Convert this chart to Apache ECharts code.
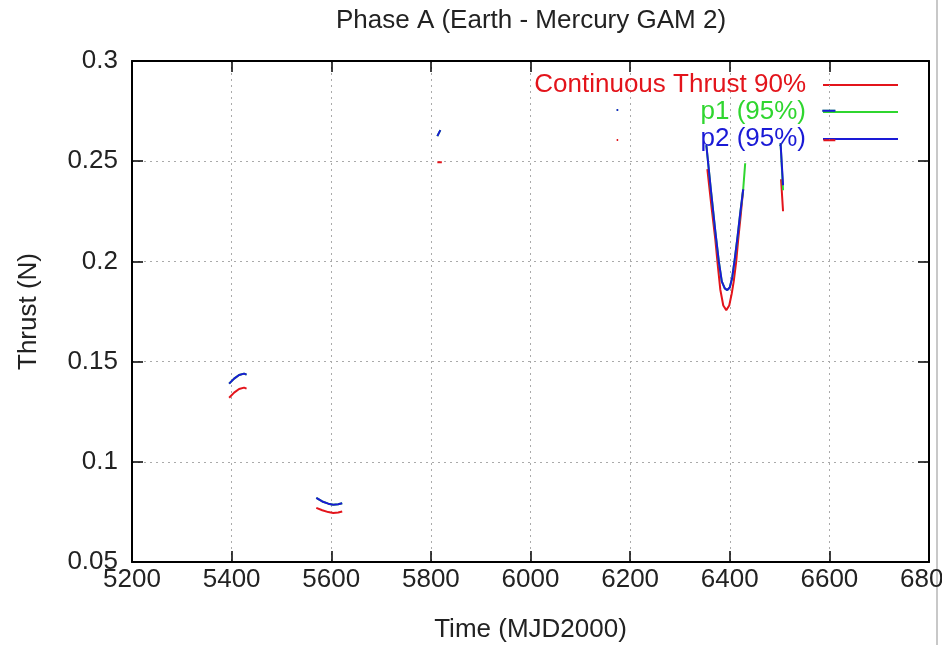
<!DOCTYPE html>
<html>
<head>
<meta charset="utf-8">
<script src="https://cdn.jsdelivr.net/npm/echarts@6/dist/echarts.min.js"></script>
<style>html,body{margin:0;padding:0;background:#fff}#chart{width:942px;height:645px}</style>
</head>
<body>
<div id="chart"></div>
<script>
// ---- data ----
const xTickValues = [5200, 5400, 5600, 5800, 6000, 6200, 6400, 6600, 6800];
const yTickValues = [0.05, 0.1, 0.15, 0.2, 0.25, 0.3];

const seriesNames = ['Continuous Thrust 90%', 'p1 (95%)', 'p2 (95%)'];
const seriesColors = ['#e3141b', '#2fd62f', '#1a1ad6'];

// null marks a gap between separate thrust arcs
const contTime   = [5395, 5405, 5415, 5425, 5430, null,
                    5570, 5582, 5594, 5604, 5614, 5622, null,
                    5813, 5822, null,
                    6173, 6176, null,
                    6355, 6363, 6371, 6376, 6381, 6387, 6393, 6399, 6404, 6408, 6413, 6417, 6422, 6427, null,
                    6503, 6507, null,
                    6588, 6612];
const contThrust = [0.1320, 0.1345, 0.1363, 0.1370, 0.1365, null,
                    0.0770, 0.0758, 0.0749, 0.0745, 0.0747, 0.0752, null,
                    0.2495, 0.2495, null,
                    0.2606, 0.2606, null,
                    0.246, 0.228, 0.211, 0.198, 0.186, 0.178, 0.1757, 0.178, 0.184, 0.190, 0.200, 0.211, 0.223, 0.236, null,
                    0.241, 0.225, null,
                    0.2605, 0.2605];

const p1Time   = [5395, 5405, 5415, 5425, 5430, null,
                  5570, 5582, 5594, 5604, 5614, 5622, null,
                  5813, 5819, null,
                  6173, 6176, null,
                  6353, 6362, 6371, 6378, 6384, 6390, 6395, 6400, 6405, 6410, 6416, 6421, 6427, 6431, null,
                  6502, 6507, null,
                  6586, 6612];
const p1Thrust = [0.1390, 0.1415, 0.1433, 0.1440, 0.1435, null,
                  0.0820, 0.0802, 0.0791, 0.0786, 0.0788, 0.0793, null,
                  0.2625, 0.2655, null,
                  0.2755, 0.2755, null,
                  0.258, 0.236, 0.215, 0.200, 0.190, 0.1865, 0.1857, 0.187, 0.192, 0.201, 0.213, 0.224, 0.236, 0.249, null,
                  0.259, 0.2355, null,
                  0.2752, 0.2752];

const p2Time   = [5395, 5405, 5415, 5425, 5430, null,
                  5570, 5582, 5594, 5604, 5614, 5622, null,
                  5813, 5819, null,
                  6173, 6176, null,
                  6353, 6362, 6371, 6378, 6384, 6390, 6395, 6400, 6405, 6410, 6416, 6421, 6427, null,
                  6502, 6507, null,
                  6586, 6612];
const p2Thrust = [0.1390, 0.1415, 0.1433, 0.1440, 0.1435, null,
                  0.0820, 0.0802, 0.0791, 0.0786, 0.0788, 0.0793, null,
                  0.2625, 0.2655, null,
                  0.2755, 0.2755, null,
                  0.258, 0.236, 0.215, 0.200, 0.190, 0.1865, 0.1857, 0.187, 0.192, 0.201, 0.213, 0.224, 0.236, null,
                  0.259, 0.238, null,
                  0.2752, 0.2752];

// ---- build ----
function pairs(xs, ys) {
  return xs.map((x, i) => x === null ? ['-', '-'] : [x, ys[i]]);
}
const allData = [pairs(contTime, contThrust), pairs(p1Time, p1Thrust), pairs(p2Time, p2Thrust)];

const FONT = 'Liberation Sans';
const FS = 26;
const xMin = xTickValues[0], xMax = xTickValues[xTickValues.length - 1];
const xInt = xTickValues[1] - xTickValues[0];
const yMin = yTickValues[0], yMax = yTickValues[yTickValues.length - 1];
const yInt = 0.05;

const chart = echarts.init(document.getElementById('chart'), null, {renderer: 'canvas'});

const baseAxisLine = {show: true, onZero: false, lineStyle: {color: '#000', width: 2}};
const baseTick = {show: true, inside: true, length: 11, lineStyle: {color: '#000', width: 1.5}};

const legendRows = [85, 112, 139];
const graphics = [
  {type: 'text', x: 531, y: 21, style: {text: 'Phase A (Earth - Mercury GAM 2)', font: FS + 'px ' + FONT, fill: '#222', align: 'center', verticalAlign: 'middle'}},
  {type: 'rect', shape: {x: 936, y: 0, width: 2, height: 645}, style: {fill: '#c8c8c8'}, z: 0}
];
seriesNames.forEach((n, i) => {
  graphics.push({type: 'text', x: 806, y: legendRows[i], z: 1,
    style: {text: n, font: FS + 'px ' + FONT, fill: seriesColors[i], align: 'right', verticalAlign: 'middle'}});
  graphics.push({type: 'line', z: 0, shape: {x1: 823, y1: legendRows[i], x2: 898, y2: legendRows[i]},
    style: {stroke: seriesColors[i], lineWidth: 2}});
});

chart.setOption({
  animation: false,
  backgroundColor: '#fff',
  grid: {left: 132, right: 13, top: 61, bottom: 83, containLabel: false, outerBoundsMode: 'none'},
  xAxis: [
    {type: 'value', min: xMin, max: xMax, interval: xInt, position: 'bottom',
     name: 'Time (MJD2000)', nameLocation: 'middle', nameGap: 55,
     nameTextStyle: {fontFamily: FONT, fontSize: FS, color: '#222'},
     axisLine: baseAxisLine, axisTick: baseTick,
     axisLabel: {fontFamily: FONT, fontSize: FS, color: '#222', margin: 5, showMaxLabel: true, showMinLabel: true,
                 hideOverlap: false, formatter: v => String(v)},
     splitLine: {show: true, lineStyle: {color: '#aaa', type: [2, 4], width: 1}}},
    {type: 'value', min: xMin, max: xMax, interval: xInt, position: 'top',
     axisLine: baseAxisLine, axisTick: baseTick, axisLabel: {show: false}, splitLine: {show: false}}
  ],
  yAxis: [
    {type: 'value', min: yMin, max: yMax, interval: yInt, position: 'left',
     name: 'Thrust (N)', nameLocation: 'middle', nameGap: 90, nameRotate: 90,
     nameTextStyle: {fontFamily: FONT, fontSize: FS, color: '#222'},
     axisLine: baseAxisLine, axisTick: baseTick,
     axisLabel: {fontFamily: FONT, fontSize: FS, color: '#222', margin: 14, hideOverlap: false,
                 formatter: v => String(+v.toFixed(2))},
     splitLine: {show: true, lineStyle: {color: '#aaa', type: [2, 4], width: 1}}},
    {type: 'value', min: yMin, max: yMax, interval: yInt, position: 'right',
     axisLine: baseAxisLine, axisTick: baseTick, axisLabel: {show: false}, splitLine: {show: false}}
  ],
  graphic: graphics,
  series: seriesNames.map((n, i) => ({
    name: n, type: 'line', xAxisIndex: 0, yAxisIndex: 0,
    data: allData[i], showSymbol: false, connectNulls: false, z: 3 + i,
    lineStyle: {color: seriesColors[i], width: 2}, itemStyle: {color: seriesColors[i]}
  }))
});
</script>
</body>
</html>
